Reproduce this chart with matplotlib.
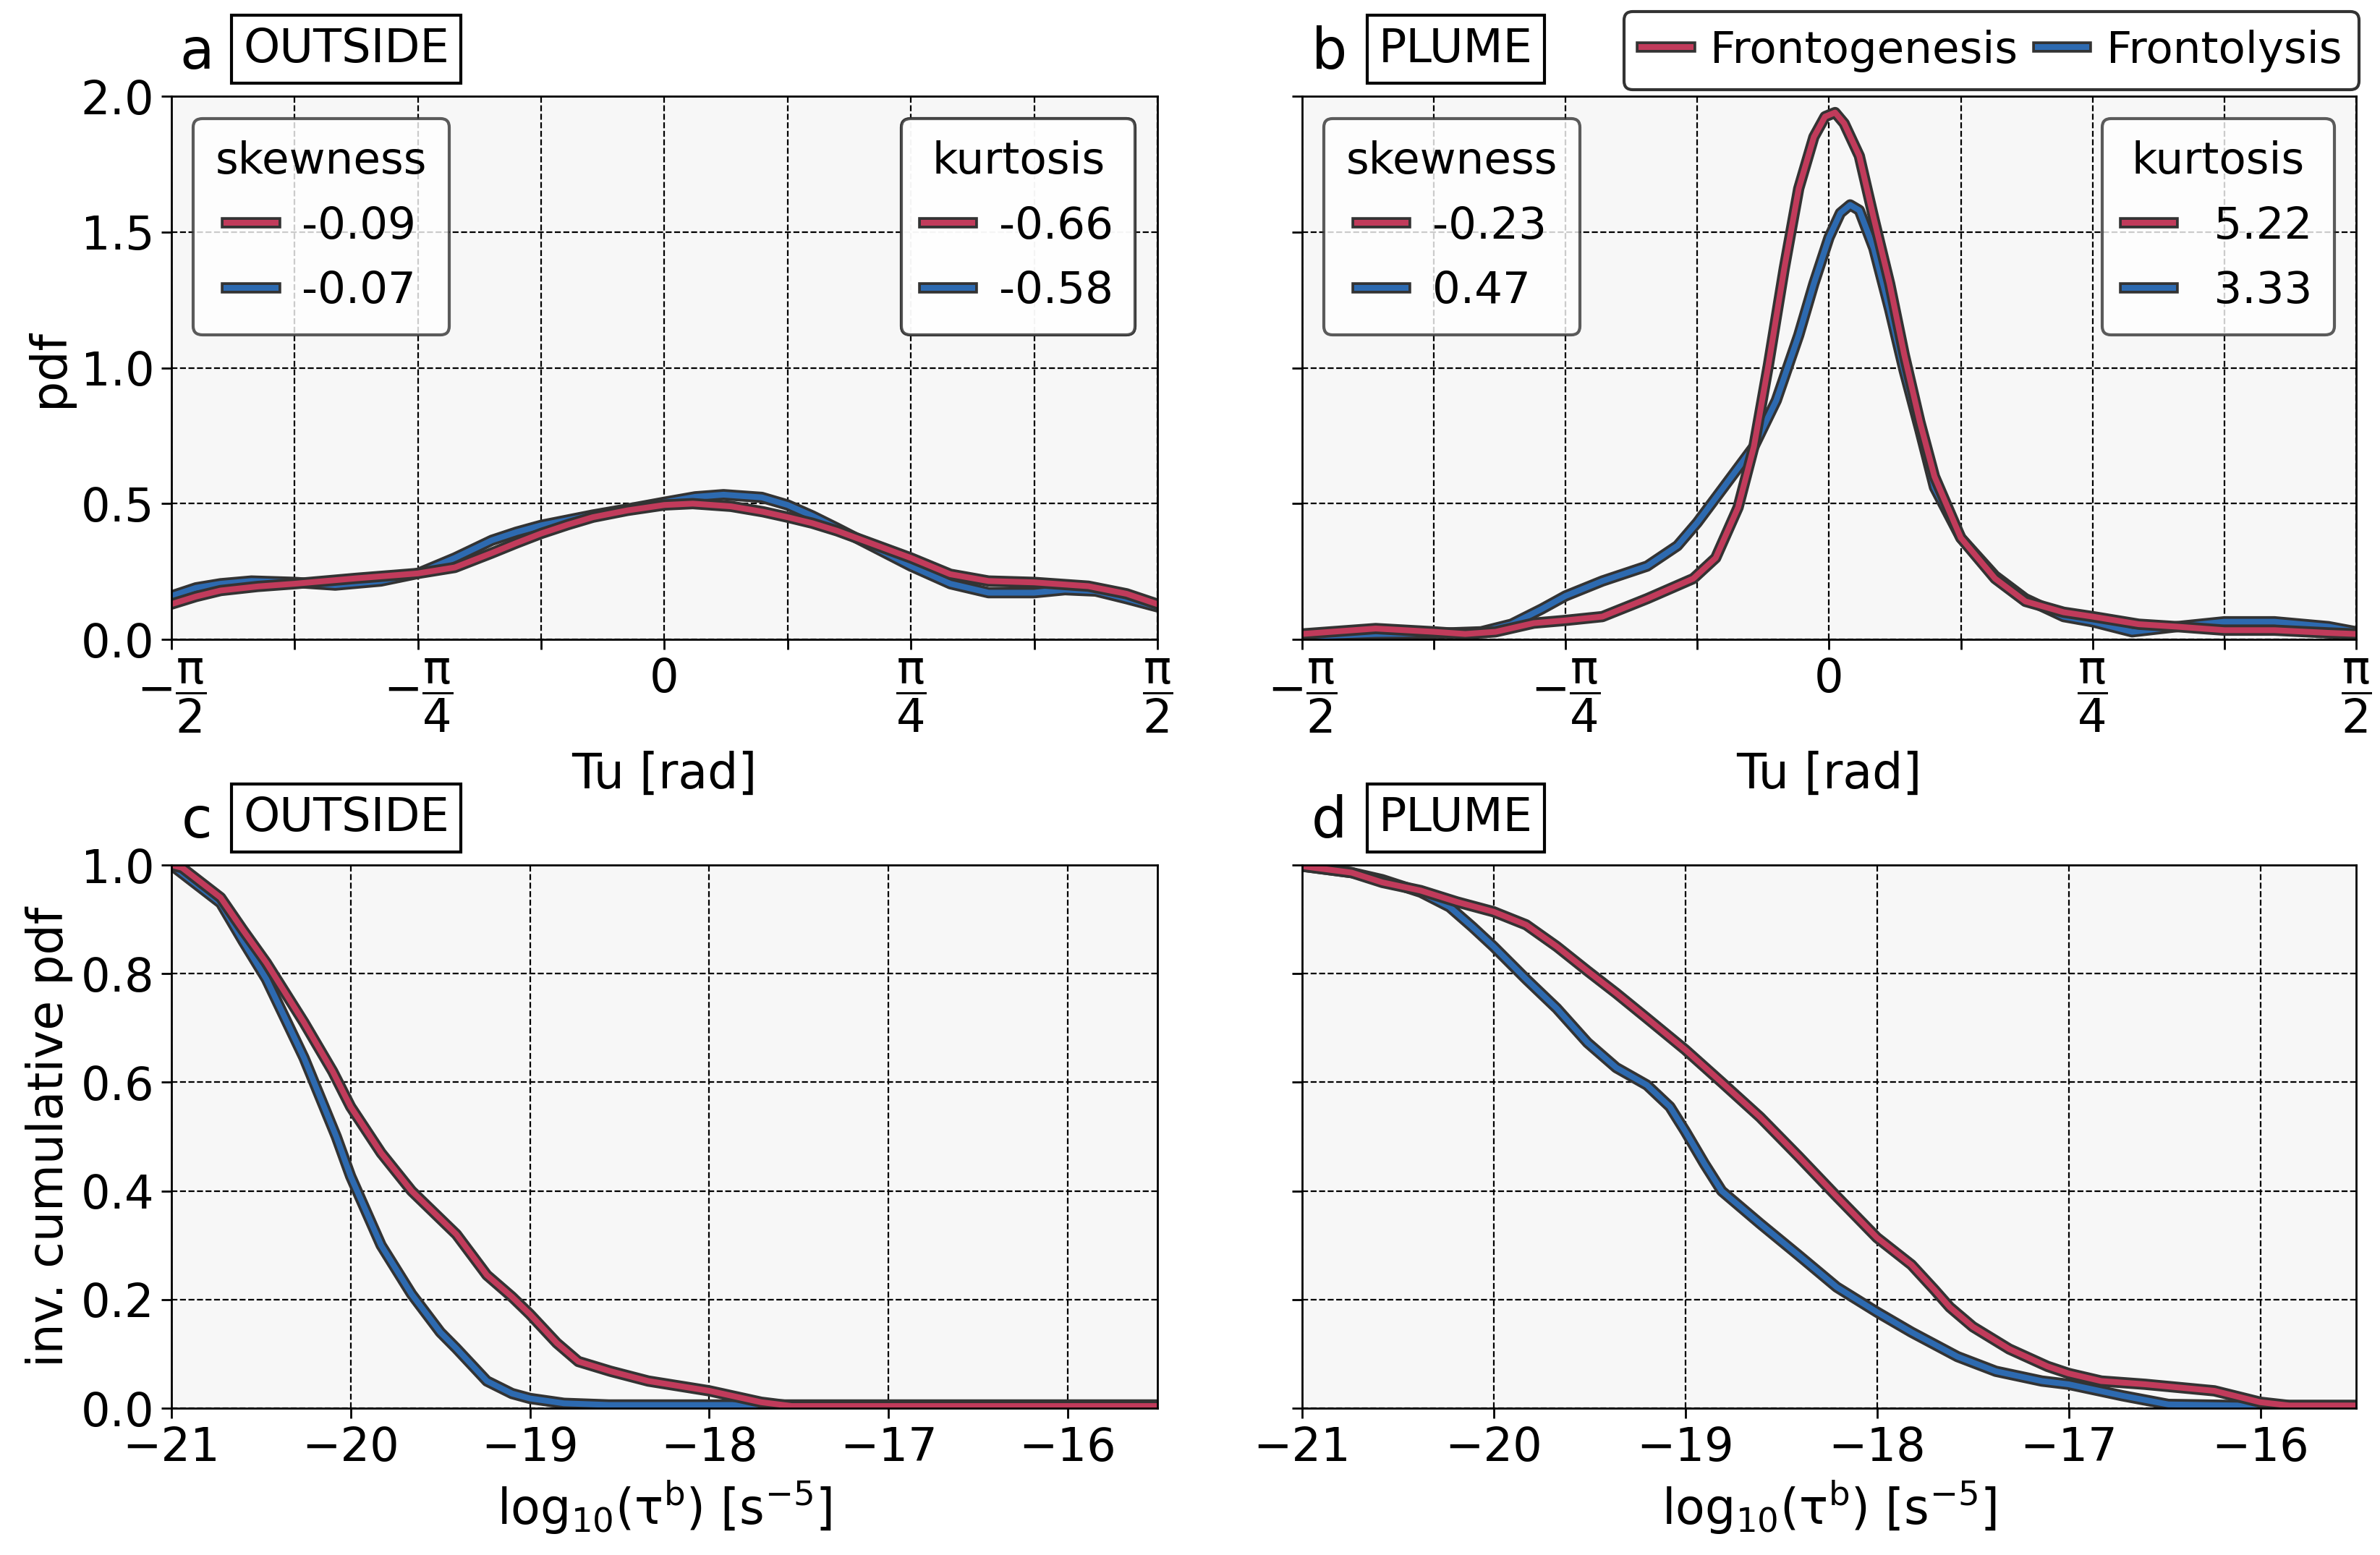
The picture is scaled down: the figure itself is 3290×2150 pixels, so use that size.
import numpy as np
import matplotlib
matplotlib.use("Agg")
import matplotlib.pyplot as plt
import matplotlib.patheffects as pe

# ---- data ----
# panel a: OUTSIDE, pdf of Tu (x in units of pi/8)
a_gen_x = [-4, -3.8, -3.6, -3.3, -3, -2.5, -2, -1.7, -1.4, -1.2, -1, -0.78, -0.58, -0.3, 0, 0.23, 0.54, 0.8, 1, 1.2, 1.4, 1.7, 2, 2.32, 2.63, 3, 3.44, 3.75, 4]
a_gen_y = [0.13, 0.158, 0.18, 0.195, 0.205, 0.225, 0.243, 0.265, 0.318, 0.355, 0.39, 0.423, 0.45, 0.475, 0.495, 0.50, 0.49, 0.47, 0.45, 0.428, 0.40, 0.35, 0.30, 0.24, 0.215, 0.21, 0.196, 0.168, 0.13]
a_lys_x = [-4, -3.8, -3.6, -3.35, -3, -2.67, -2.3, -2, -1.7, -1.4, -1.2, -1, -0.58, -0.3, 0, 0.25, 0.48, 0.79, 1, 1.2, 1.4, 1.7, 2, 2.32, 2.63, 3, 3.25, 3.5, 3.75, 4]
a_lys_y = [0.16, 0.19, 0.205, 0.215, 0.21, 0.20, 0.215, 0.243, 0.30, 0.365, 0.395, 0.42, 0.458, 0.48, 0.505, 0.525, 0.533, 0.523, 0.495, 0.455, 0.41, 0.34, 0.27, 0.205, 0.172, 0.172, 0.183, 0.178, 0.15, 0.12]

# panel b: PLUME, pdf of Tu (x in units of pi/8)
b_gen_x = [-4, -3.44, -3, -2.76, -2.53, -2.24, -2, -1.72, -1.38, -1.03, -0.86, -0.69, -0.57, -0.46, -0.34, -0.23, -0.115, -0.03, 0.046, 0.115,
           0.23, 0.34, 0.46, 0.57, 0.69, 0.80, 1, 1.26, 1.49, 1.78, 2, 2.35, 2.64, 3, 3.38, 3.79, 4]
b_gen_y = [0.02, 0.04, 0.028, 0.02, 0.028, 0.06, 0.07, 0.084, 0.15, 0.224, 0.30, 0.486, 0.71, 1.01, 1.365, 1.66, 1.85, 1.925, 1.94, 1.90,
           1.78, 1.55, 1.31, 1.05, 0.80, 0.60, 0.374, 0.224, 0.14, 0.10, 0.084, 0.056, 0.047, 0.034, 0.034, 0.024, 0.02]
b_lys_x = [-4, -3.44, -3, -2.64, -2.41, -2.18, -2, -1.72, -1.38, -1.15, -1, -0.80, -0.57, -0.40, -0.23, -0.115, 0, 0.086, 0.16, 0.23,
           0.34, 0.46, 0.57, 0.69, 0.80, 1, 1.26, 1.49, 1.78, 2, 2.3, 2.64, 3, 3.38, 3.79, 4]
b_lys_y = [0.01, 0.02, 0.022, 0.028, 0.056, 0.112, 0.16, 0.215, 0.27, 0.345, 0.43, 0.56, 0.71, 0.88, 1.12, 1.31, 1.48, 1.57, 1.60, 1.58,
           1.44, 1.215, 0.99, 0.77, 0.56, 0.374, 0.234, 0.15, 0.084, 0.065, 0.028, 0.047, 0.065, 0.065, 0.047, 0.028]

# panel c: OUTSIDE, inverse cumulative pdf of log10(tau_b)
c_gen_x = [-21, -20.94, -20.725, -20.6, -20.47, -20.26, -20.1, -20, -19.83, -19.66, -19.41, -19.24, -19.1, -19, -18.85, -18.73, -18.55, -18.34, -18, -17.71, -17.54, -15.5]
c_gen_y = [1.0, 0.995, 0.94, 0.88, 0.82, 0.71, 0.62, 0.555, 0.47, 0.40, 0.32, 0.245, 0.205, 0.173, 0.12, 0.086, 0.068, 0.05, 0.032, 0.011, 0.004, 0.004]
c_lys_x = [-21, -20.725, -20.6, -20.47, -20.26, -20.08, -20, -19.83, -19.66, -19.5, -19.41, -19.24, -19.1, -19, -18.81, -18.56, -15.5]
c_lys_y = [1.0, 0.93, 0.86, 0.79, 0.645, 0.50, 0.427, 0.30, 0.21, 0.14, 0.11, 0.05, 0.027, 0.018, 0.009, 0.006, 0.006]

# panel d: PLUME, inverse cumulative pdf of log10(tau_b)
d_gen_x = [-21, -20.74, -20.58, -20.38, -20.19, -20, -19.83, -19.67, -19.51, -19.36, -19.2, -19, -18.81, -18.61, -18.41, -18.21,
           -18, -17.82, -17.70, -17.62, -17.5, -17.31, -17.11, -17, -16.83, -16.6, -16.24, -16, -15.85, -15.5]
d_gen_y = [0.998, 0.986, 0.968, 0.953, 0.932, 0.914, 0.89, 0.85, 0.805, 0.764, 0.718, 0.66, 0.60, 0.536, 0.464, 0.39,
           0.314, 0.264, 0.218, 0.186, 0.15, 0.109, 0.077, 0.064, 0.05, 0.044, 0.032, 0.011, 0.005, 0.005]
d_lys_x = [-21, -20.74, -20.58, -20.38, -20.23, -20.11, -20, -19.83, -19.67, -19.51, -19.36, -19.2, -19.08, -19, -18.9, -18.81, -18.61,
           -18.41, -18.21, -18, -17.82, -17.58, -17.38, -17.14, -17, -16.72, -16.48, -16.12, -15.5]
d_lys_y = [0.998, 0.986, 0.973, 0.95, 0.923, 0.886, 0.85, 0.79, 0.736, 0.673, 0.627, 0.595, 0.555, 0.51, 0.45, 0.40, 0.34,
           0.282, 0.223, 0.177, 0.14, 0.095, 0.068, 0.05, 0.044, 0.023, 0.007, 0.005, 0.005]

skew_a = ["-0.09", "-0.07"]
kurt_a = ["-0.66", "-0.58"]
skew_b = ["-0.23", "0.47"]
kurt_b = [" 5.22", " 3.33"]

red = "#c13b5b"
blue = "#2d6ab0"
edge = "#333333"

plt.rcParams["font.size"] = 22
plt.rcParams["font.family"] = "DejaVu Sans"

fig = plt.figure(figsize=(16.45, 10.75), dpi=200)
ax_a = fig.add_axes([0.072, 0.5888, 0.4143, 0.3493])
ax_b = fig.add_axes([0.547, 0.5888, 0.443, 0.3493])
ax_c = fig.add_axes([0.072, 0.0944, 0.4143, 0.3493])
ax_d = fig.add_axes([0.547, 0.0944, 0.443, 0.3493])

def line(ax, x, y, col, lab):
    l, = ax.plot(x, y, color=col, lw=2.9, label=lab,
                 path_effects=[pe.Stroke(linewidth=5.6, foreground=edge), pe.Normal()])
    return l

def style(ax):
    ax.set_facecolor("#f7f7f7")
    ax.grid(True, color="k", linestyle="--", linewidth=0.8)
    ax.set_axisbelow(True)
    ax.tick_params(direction="out", length=5, width=1, labelsize=23)
    for s in ax.spines.values():
        s.set_color("k")
        s.set_linewidth(1.0)

def panel_tag(ax, letter, name):
    ax.text(0.026, 1.03, letter, transform=ax.transAxes, ha="center", va="bottom", fontsize=28)
    ax.text(0.073, 1.045, name, transform=ax.transAxes, ha="left", va="bottom", fontsize=23,
            bbox=dict(boxstyle="square,pad=0.25", fc="white", ec="k", lw=1.5))

pi_ticks = np.arange(-4, 5) * np.pi / 8
pi_labels = [r"$-\dfrac{\mathrm{\pi}}{2}$", "", r"$-\dfrac{\mathrm{\pi}}{4}$", "", "0", "",
             r"$\dfrac{\mathrm{\pi}}{4}$", "", r"$\dfrac{\mathrm{\pi}}{2}$"]

leg_kw = dict(handlelength=1.1, handletextpad=0.6, labelspacing=0.5, borderpad=0.5,
              fancybox=True, edgecolor=edge, framealpha=0.8)

for ax, gx, gy, lx, ly, sk, ku, name, letter in [
        (ax_a, a_gen_x, a_gen_y, a_lys_x, a_lys_y, skew_a, kurt_a, "OUTSIDE", "a"),
        (ax_b, b_gen_x, b_gen_y, b_lys_x, b_lys_y, skew_b, kurt_b, "PLUME", "b")]:
    style(ax)
    lb = line(ax, np.array(lx) * np.pi / 8, ly, blue, "Frontolysis")
    lr = line(ax, np.array(gx) * np.pi / 8, gy, red, "Frontogenesis")
    ax.set_xlim(-np.pi / 2, np.pi / 2)
    ax.set_ylim(0, 2)
    ax.set_yticks([0, 0.5, 1.0, 1.5, 2.0])
    ax.set_xticks(pi_ticks)
    ax.set_xticklabels(pi_labels)
    ax.set_xlabel("Tu [rad]", fontsize=24, labelpad=8)
    leg1 = ax.legend([lr, lb], sk, title="skewness", loc="upper left", **leg_kw)
    leg1.get_frame().set_linewidth(1.5)
    ax.add_artist(leg1)
    leg2 = ax.legend([lr, lb], ku, title="kurtosis", loc="upper right", **leg_kw)
    leg2.get_frame().set_linewidth(1.5)
    ax.add_artist(leg2)
    panel_tag(ax, letter, name)
    if ax is ax_b:
        handles = [lr, lb]

for ax, gx, gy, lx, ly, name, letter in [
        (ax_c, c_gen_x, c_gen_y, c_lys_x, c_lys_y, "OUTSIDE", "c"),
        (ax_d, d_gen_x, d_gen_y, d_lys_x, d_lys_y, "PLUME", "d")]:
    style(ax)
    line(ax, lx, ly, blue, "Frontolysis")
    line(ax, gx, gy, red, "Frontogenesis")
    ax.set_xlim(-21, -15.5)
    ax.set_ylim(0, 1)
    ax.set_xticks([-21, -20, -19, -18, -17, -16])
    ax.set_yticks([0, 0.2, 0.4, 0.6, 0.8, 1.0])
    ax.set_xlabel(r"log$_{10}$(τ$^{\mathrm{b}}$) [s$^{-5}$]", fontsize=24)
    panel_tag(ax, letter, name)

ax_a.set_ylabel("pdf", fontsize=24)
ax_c.set_ylabel("inv. cumulative pdf", fontsize=24)
ax_b.set_yticklabels([])
ax_d.set_yticklabels([])

leg = ax_b.legend(handles, ["Frontogenesis", "Frontolysis"], ncol=2, loc="lower right",
                  bbox_to_anchor=(1.003, 1.012), handlelength=1.1, handletextpad=0.45,
                  columnspacing=0.45, borderpad=0.4, borderaxespad=0.0,
                  fancybox=True, edgecolor=edge, framealpha=1.0)
leg.get_frame().set_linewidth(1.5)

fig.savefig("out.png", dpi=200)
